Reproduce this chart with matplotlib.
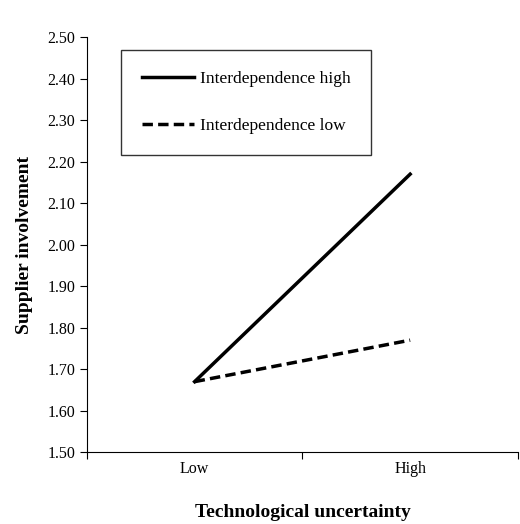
import matplotlib.pyplot as plt
from matplotlib.ticker import FixedLocator, NullFormatter

categories = ['Low', 'High']
high_vals = [1.67, 2.17]
low_vals = [1.67, 1.77]

plt.rcParams['font.family'] = ['Liberation Serif', 'DejaVu Serif']

fig = plt.figure(figsize=(5.2, 5.24), dpi=100)
ax = fig.add_axes([0.167, 0.137, 0.829, 0.792])

x = [0.5, 1.5]
ax.plot(x, high_vals, color='black', lw=2.5, label='Interdependence high')
ax.plot(x, low_vals, color='black', lw=2.5, ls=(0, (3, 1.5)), label='Interdependence low')

ax.set_xlim(0, 2)
ax.set_ylim(1.5, 2.5)
ax.set_yticks([1.5 + 0.1 * i for i in range(11)])
ax.set_yticklabels([f'{1.5 + 0.1 * i:.2f}' for i in range(11)], fontsize=11.5)
ax.xaxis.set_major_locator(FixedLocator([0, 1, 2]))
ax.xaxis.set_major_formatter(NullFormatter())
ax.xaxis.set_minor_locator(FixedLocator(x))
ax.set_xticklabels(categories, minor=True, fontsize=11.5)
ax.tick_params(axis='x', which='minor', length=0, pad=6)
ax.tick_params(axis='both', which='major', direction='out', length=5)

for s in ['top', 'right']:
    ax.spines[s].set_visible(False)

ax.set_xlabel('Technological uncertainty', fontsize=14, fontweight='bold', labelpad=20)
ax.set_ylabel('Supplier involvement', fontsize=14, fontweight='bold', labelpad=10)

leg = ax.legend(loc='upper left', bbox_to_anchor=(0.06, 0.99), fontsize=12.5,
                frameon=True, fancybox=False, edgecolor='black', handlelength=3,
                labelspacing=1.8, borderpad=1.2, handletextpad=0.3)
leg.get_frame().set_linewidth(1)

fig.savefig('out.png')
